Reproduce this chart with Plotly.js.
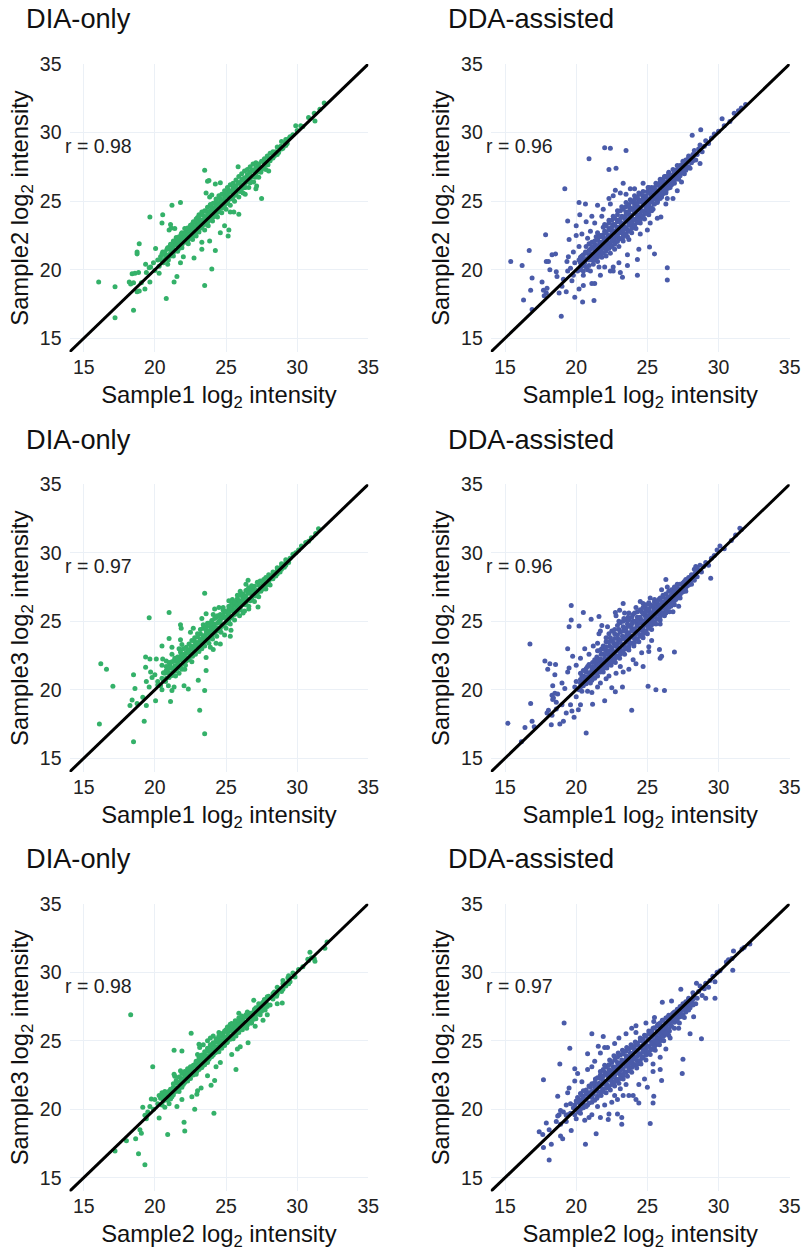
<!DOCTYPE html>
<html><head><meta charset="utf-8">
<script src="https://cdn.plot.ly/plotly-3.0.1.min.js"></script>
<style>html,body{margin:0;padding:0;background:#fff}</style></head>
<body><div id="chart" style="width:803px;height:1254px"></div>
<script>
const dia12 = [[16.05,19.1],[17.2,18.75],[17.2,16.5],[18.5,17.05],[20.8,17.9],[23.5,18.85],[24,20.05],[21.35,19.1],[21.55,19.5],[19.65,23.85],[20.55,24],[20.5,23.4],[21.2,24.7],[21.8,24.9],[23.5,27.25],[23.7,26.45],[23.8,26.5],[24.25,26.25],[24.6,26.35],[25.85,27.5],[27.5,25.2],[25.15,22.45],[25.2,22.9],[24.25,21.4],[23.85,22.1],[18.9,21.9],[18.75,21.3],[18.75,21.15],[20.05,21.55],[18.4,19.7],[18.6,19.75],[18.85,19.8],[18.2,19.1],[18.3,18.95],[18.5,19.05],[18.75,18.4],[18.9,18.45],[19.05,19.05],[19.3,18.6],[19.65,19.1],[20.3,19.75],[19.35,20.4],[19.6,20.15],[21,22.9],[21.1,23.3],[21.15,23.05],[21.4,23],[20.9,20.4],[21.8,20.5],[22,20.95],[22.75,20.85],[23.3,21.5],[23.3,22],[24.6,22.7],[24.9,23.2],[23.1,24],[23.6,25.6],[23.85,25.3],[24,25.45],[25.9,24.05],[25.3,24.2],[25.55,24.2],[26.35,25.5],[27.1,25.9],[27.15,26.1],[26.3,26],[29.9,30.5],[30.25,30.5],[31.2,31.4],[31.25,30.85],[30.8,31.1],[31.9,32.15],[31.6,31.7],
[19.4,19.8],[19.7,20.2],[19.9,20.5],[20,19.95],[20.2,20.7],[20.3,20.25],[20.4,20.95],[20.55,21.3],[20.6,20.5],[20.75,21],[20.85,21.5],[20.95,20.7],[21.05,21.7],[21.1,21.2],[21.25,21.5],[21.3,21],[21.4,21.95],[21.5,22.2],[21.6,21.35],[21.65,21.8],[21.8,22.25],[21.85,22.6],[21.9,21.6],[22,22.4],[22.1,22],[22.2,22.8],[22.25,22.45],[22.35,21.9],[22.45,23],[22.5,22.6],[22.6,23.3],[22.65,22.2],[22.75,22.85],[22.85,23.5],[22.9,22.45],[23,23.25],[23,23.8],[23.1,22.75],[23.2,23.6],[23.3,23.05],[23.35,24],[23.45,23.35],[23.5,22.9],[23.6,23.8],[23.65,24.25],[23.75,23.2],[23.8,23.6],[23.95,24.1],[24,24.55],[24.05,23.55],[24.15,23.9],[24.25,24.4],[24.3,24.95],[24.4,23.85],[24.45,24.2],[24.55,24.75],[24.6,25.2],[24.7,24.15],[24.8,24.55],[24.85,25.05],[24.95,25.55],[25,24.4],[25.1,24.85],[25.15,25.35],[25.2,25.8],[25.3,24.7],[25.4,25.2],[25.45,25.6],[25.5,26],[25.6,25],[25.7,25.45],[25.75,25.9],[25.85,26.35],[25.9,25.3],[26,25.7],[26.05,26.15],[26.15,26.6],[26.2,25.6],[26.35,26],[26.4,26.45],[26.5,26.95],[26.6,26],[26.7,26.35],[26.8,26.8],[26.85,27.25],[26.95,26.4],[27.05,26.75],[27.15,27.1],[27.25,27.55],[27.3,26.75],[27.45,27.1],[27.55,27.45],[27.65,27.85],[27.8,27.3],[27.95,27.65],[28.05,28.1],[28,27.2],[28.2,28.15],[28.4,28.3],[28.5,28.6],[28.7,28.55],[28.85,29],[29,28.85],[29.15,29.25],[29.3,29.2],[29.5,29.7],[29.7,29.85],[30,30.15],[30.4,30.45]];
const dia12Core = [[20.5,20.65,21.15],[20.7,20.75,21.3],[20.9,21.05,21.6],[21.1,21,21.5,21.85],[21.3,21.25,21.75,22.1],[21.5,21.4,21.8,22.35],[21.7,21.55,22.05,22.4],[21.9,21.8,22.15,22.7],[22.1,22.3,22.65,23],[22.3,22.1,22.6,23.05],[22.5,22.3,22.85,23.25],[22.7,22.5,23.05,23.5],[22.9,22.75,23.2,23.7],[23.1,23,23.4,23.85],[23.3,23.25,23.6,24.2],[23.5,23.3,23.8,24.3],[23.7,23.45,24,24.55],[23.9,23.7,24.3,24.75],[24.1,23.85,24.35,24.85],[24.3,24.1,24.65,25.15],[24.5,24.35,24.9,25.4],[24.7,24.5,25,25.5],[24.9,24.7,25.3,25.75],[25.1,24.95,25.55,26],[25.3,25.15,25.7,26.2],[25.5,25.3,25.8,26.3],[25.7,25.6,26.1,26.55],[25.9,25.75,26.35,26.8],[26.1,25.9,26.5,27],[26.3,26.25,26.7,27.2],[26.5,26.4,26.8,27.3],[26.7,26.55,27.1,27.5],[26.9,26.8,27.25,27.7],[27.1,27,27.45,27.8],[27.3,27.2,27.7],[27.5,27.3,27.9],[27.7,27.6,28.1],[27.9,27.85,28.3],[28.1,27.95,28.5],[28.3,28.6,28.15],[28.6,28.4,28.95],[28.9,28.8,29.35],[29.2,29.5,29.05],[29.4,29.55]];
const dda12 = [[15.4,20.6],[16.2,20.3],[16.7,21.4],[17.85,22.55],[16.9,19.4],[16.8,18.5],[16.3,17.8],[16.9,17.1],[18.95,16.6],[19.9,18],[20.45,17.65],[21.25,17.75],[20.5,18.85],[21.1,19],[21.3,19],[21.7,19.6],[23.25,19.45],[24.3,19.6],[26.4,19.25],[26.4,20.15],[25.5,21.15],[25.15,21.65],[24.4,21.5],[24.3,20.75],[23.6,21.1],[23.1,19.8],[22.6,20.2],[19.2,25.9],[19.4,23.55],[20.2,24.9],[20.65,24.8],[20.25,24],[20.9,28.1],[22,28.9],[22.4,28.85],[23.5,28.7],[22.3,27.3],[22.8,27.4],[23.3,26.3],[22.75,25.8],[23.8,25.9],[28.15,29.8],[28.75,30.2],[30.25,31],[28.7,27.75],[27.1,25.75],[26.4,25.2],[25.95,23.85],[25.3,24.3],[17.7,18.5],[17.9,18.3],[17.95,18.65],[18.15,20],[17.9,20.6],[18.3,21.1],[18.55,21.15],[18.05,20.6],[18.6,19.85],[19.35,20.6],[19.45,20.95],[19.5,22.2],[18.65,19.5],[17.6,19.1],[17.75,18.1],[18.8,18.3],[19,18.8],[19.3,18.4],[19.7,19.2],[20.2,18.6],[20.5,19.6],[21,19.9],[21.6,20.2],[22,20.2],[22.4,19.9],[22.6,19.9],[23,20.5],[23.6,20.3],[23.7,22.2],[24.5,22.6],[25,22.9],[25.2,23.4],[25.7,23.75],[26.3,24.8],[26.8,25.2],[27.4,26.4],[20,23.2],[20.4,22.6],[20.7,23.5],[21.1,23.9],[21.5,24.7],[21.9,24.4],[22.3,25.2],[22.4,24.8],[21,22.8],[20.8,22.3],[20.2,21.7],[19.8,21.3],[20,22.5],[21.3,23.4],[21.8,23.9],[22.6,25.4],[23.1,25.6],[23.5,25.5],[24.1,25.9],[24.7,26.3],
[19.1,19.3],[19.4,19.9],[19.6,20.1],[19.8,19.6],[19.9,20.5],[20.1,19.9],[20.2,20.7],[20.3,20.2],[20.4,21],[20.5,19.9],[20.6,20.5],[20.65,21.3],[20.7,21.7],[20.8,20],[20.9,20.7],[20.95,21.1],[21,21.5],[21.1,22],[21.2,20.4],[21.2,20.9],[21.3,21.3],[21.35,21.8],[21.4,22.4],[21.5,20.6],[21.5,21],[21.6,21.5],[21.65,22],[21.7,22.5],[21.8,20.9],[21.8,21.3],[21.9,21.8],[21.95,22.3],[22,22.8],[22,23.3],[22.1,21],[22.1,21.5],[22.2,22],[22.25,22.5],[22.3,23],[22.3,23.6],[22.4,21.2],[22.4,21.8],[22.5,22.3],[22.55,22.8],[22.6,23.3],[22.6,23.9],[22.7,21.5],[22.7,22],[22.8,22.6],[22.85,23.1],[22.9,23.6],[22.9,24.3],[23,21.7],[23,22.3],[23.1,22.8],[23.15,23.4],[23.2,23.9],[23.2,24.6],[23.3,22.1],[23.3,22.6],[23.4,23.1],[23.45,23.7],[23.5,24.2],[23.5,24.9],[23.6,22.4],[23.6,22.9],[23.7,23.4],[23.75,24],[23.8,24.5],[23.8,25.1],[23.9,22.7],[23.95,23.2],[24,23.7],[24.05,24.3],[24.1,24.8],[24.1,25.4],[24.2,23],[24.25,23.5],[24.3,24],[24.35,24.6],[24.4,25.1],[24.4,25.6],[24.5,23.4],[24.55,23.8],[24.6,24.3],[24.65,24.9],[24.7,25.4],[24.8,23.7],[24.85,24.2],[24.9,24.7],[24.95,25.2],[25,25.7],[25.05,26],[25.1,24],[25.15,24.5],[25.2,25],[25.25,25.5],[25.3,26],[25.4,24.4],[25.45,24.8],[25.5,25.3],[25.55,25.8],[25.6,26.3],[25.7,24.9],[25.75,25.2],[25.8,25.6],[25.85,26.1],[25.9,26.6],[26,25.3],[26.05,25.5],[26.1,25.9],[26.15,26.4],[26.2,26.8],[26.3,25.6],[26.35,25.9],[26.4,26.2],[26.45,26.7],[26.5,27.1],[26.6,26],[26.7,26.4],[26.75,26.9],[26.8,27.3],[26.9,26.3],[27,26.7],[27.05,27.2],[27.1,27.6],[27.2,26.6],[27.3,27],[27.4,27.5],[27.5,27.9],[27.6,27],[27.7,27.4],[27.8,27.85],[27.9,28.3],[28,27.4],[28.1,27.8],[28.2,28.2],[28.3,28.7],[28.4,28],[28.5,28.4],[28.6,28.8],[28.7,29.1],[28.85,28.6],[29,29],[29.1,29.4],[29.3,29.2],[29.5,29.6],[29.7,29.9],[30,30.1],[30.4,30.5],[30.8,30.8],[31.4,31.6],[31.6,31.8],[31.9,32.05],[31.1,31.4]];
const dda12Core = [[20.3,20,20.5,20.9],[20.5,20.3,20.7,21.1],[20.7,20.2,20.8,21.2],[20.9,20.3,20.9,21.4,21.9],[21.1,20.7,21.15,21.7],[21.3,20.7,21.1,21.5,22.1],[21.5,20.9,21.3,21.75,22.2,22.7],[21.7,21.1,21.55,21.95,22.4],[21.9,21.2,21.6,22.05,22.55,23.1],[22.1,21.35,21.75,22.25,22.7,23.2],[22.3,21.55,21.95,22.4,22.9,23.4],[22.5,21.7,22.1,22.6,23.1,23.6],[22.7,21.85,22.3,22.8,23.3,23.75],[22.9,22.05,22.5,22.95,23.5,24],[23.1,22.25,22.7,23.15,23.7,24.3],[23.3,22.4,22.9,23.35,23.85,24.4],[23.5,22.6,23.05,23.55,24,24.6],[23.7,22.8,23.25,23.7,24.25,24.75],[23.9,23,23.45,23.95,24.4,24.95],[24.1,23.25,23.65,24.1,24.6,25.1],[24.3,23.45,23.8,24.35,24.85,25.3],[24.5,23.65,24.05,24.5,25,25.5],[24.7,23.9,24.25,24.7,25.2,25.7],[24.9,24.1,24.45,24.95,25.4],[25.1,24.3,24.7,25.15,25.6,26],[25.3,24.5,24.95,25.35,25.8],[25.5,24.8,25.15,25.55,26],[25.7,25,25.4,25.75,26.2],[25.9,25.2,25.55,25.95,26.4],[26.1,25.55,25.75,26.2,26.6],[26.3,25.7,26,26.4,26.8],[26.5,25.95,26.25,26.6,27],[26.7,26.2,26.5,26.8],[26.9,26.5,26.7,27.1],[27.1,26.7,26.95,27.3],[27.3,26.85,27.25,27.6],[27.5,27.1,27.4,27.75],[27.7,27.25,27.6,28],[27.9,27.5,27.9,28.15],[28.2,27.95,28.4]];
const dia13 = [[16.2,21.9],[16.6,21.5],[17.05,20.25],[16.1,17.5],[18.5,16.2],[19.25,17.7],[18.5,21.1],[18.6,20.1],[18.4,19.25],[18.25,18.85],[18.75,19],[19.15,19.45],[19.4,18.85],[20.05,19.2],[21.1,19.15],[19.6,25.25],[21,25.65],[21.8,24.75],[21.85,24.5],[21,23.75],[21.8,23.65],[20.5,23.2],[21.2,23.1],[19.35,22.4],[19.35,21.65],[19.65,22.25],[20.1,22.25],[20.55,22.25],[23.5,27.05],[26.55,28],[27.25,26.05],[25.35,24.35],[24.6,23.35],[24.1,22.95],[23.6,22.35],[23.6,21.4],[23.05,20.7],[23.5,19.95],[23.15,18.5],[23.5,16.8],[22.05,20.3],[22.35,20.05],[21.35,20.2],[21.2,19.95],[20.95,20.3],[20.5,20],[19.4,20.6],[19.6,20.2],[19.8,20.9],[19.7,21.3],[20,21.1],[20.2,20.6],[20.5,21.8],[20.8,22.1],[21.2,22.6],[21.7,23],[21.9,23.3],[22.5,24.2],[22.7,24.5],[23.3,25.2],[23.6,25.55],[24.1,25.5],[24.2,25.9],[24.5,26],[24.8,26],[25.2,26.5],[25.45,26.6],[25.8,26.9],[26,27.2],[26.4,27.7],[26.5,27.3],[25.3,23.9],[24.9,24],[24.3,23.4],[23.9,23.1],[26.6,25.9],[26.2,25.6],[21.7,21.2],[22.1,21.5],[22.6,22.05],
[20.2,20.35],[20.4,20.3],[20.5,20.85],[20.7,21.2],[20.75,20.6],[20.9,21.5],[21,20.9],[21.05,21.85],[21.2,21.2],[21.3,21.6],[21.35,22.1],[21.45,21],[21.5,21.5],[21.6,22.4],[21.7,21.85],[21.8,22.2],[21.9,21.5],[22,22],[22.05,22.6],[22.15,21.8],[22.2,22.35],[22.3,22.9],[22.4,22.2],[22.45,22.6],[22.55,23.2],[22.65,22.45],[22.7,22.9],[22.8,23.5],[22.85,22.6],[22.95,23.2],[23,23.85],[23.1,22.8],[23.15,23.45],[23.2,24.1],[23.3,23],[23.35,23.65],[23.4,24.5],[23.5,23.2],[23.55,23.85],[23.6,24.35],[23.7,24.85],[23.8,23.4],[23.85,24.1],[23.9,24.6],[24,25.05],[24.05,23.7],[24.1,24.3],[24.2,24.8],[24.3,25.3],[24.35,23.9],[24.4,24.5],[24.5,25],[24.6,25.5],[24.65,24.2],[24.7,24.75],[24.8,25.25],[24.9,25.75],[25,24.5],[25.05,25],[25.15,25.5],[25.2,25.9],[25.3,24.8],[25.35,25.25],[25.45,25.75],[25.55,26.2],[25.6,25.1],[25.7,25.55],[25.75,26],[25.85,26.45],[25.95,25.4],[26,25.85],[26.1,26.3],[26.2,26.75],[26.3,25.75],[26.35,26.2],[26.45,26.6],[26.55,27.05],[26.6,26.1],[26.7,26.5],[26.8,26.95],[26.9,27.35],[27,26.45],[27.05,26.85],[27.15,27.25],[27.3,27.65],[27.3,26.8],[27.45,27.2],[27.55,27.6],[27.65,28.05],[27.8,27.35],[27.9,27.75],[28,28.15],[28.1,27.65],[28.2,28.1],[28.3,28.45],[28.5,28.3],[28.6,28.7],[28.8,28.6],[28.9,29],[29.1,28.95],[29.2,29.3],[29.4,29.3],[29.5,29.6],[29.7,29.9],[29.9,30],[30.1,30.2],[30.3,30.5],[30.6,30.75],[30.8,30.85],[31,31.1],[31.3,31.4],[31.5,31.75]];
const dia13Core = [[20.6,20.7,21.25],[20.8,20.85,21.4,21.7],[21,21.2,21.6,22],[21.2,21.05,21.55,22.05],[21.4,21.35,21.75,22.3],[21.6,21.55,21.95,22.2],[21.8,21.7,22.45,22.75],[22,22.25,22.55,23],[22.2,22.1,22.7,23.1],[22.4,22.3,22.9,23.35],[22.6,22.6,23,23.6],[22.8,22.7,23.2,23.8],[23,22.9,23.45,24.1],[23.2,23.15,23.7,24.4],[23.4,23.3,23.95,24.75],[23.6,23.55,24.1,24.6],[23.8,23.75,24.3,24.85],[24,23.9,24.5,24.8],[24.2,24.15,24.55,25.2],[24.4,24.3,24.85,25.4],[24.6,24.5,25.05,25.3],[24.8,24.7,25.5,25.8],[25,24.85,25.3,25.7],[25.2,25.1,25.65,26.1],[25.4,25.35,25.95,26.3],[25.6,25.5,25.85,26.4],[25.8,25.7,26.2,26.65],[26,26.05,26.5,26.9],[26.2,26.25,26.55,27],[26.4,26.35,26.85,27.25],[26.6,26.6,27.15,27.45],[26.8,26.65,27.3,27.6],[27,27.05,27.55],[27.2,27.05,27.85],[27.4,27.45,27.95],[27.6,27.35,27.85],[27.8,27.65,28.2],[28,27.9,28.4],[28.3,28.1,28.6],[28.6,28.45,28.9],[28.9,28.8,29.2],[29.2,29.1,29.5]];
const dda13 = [[15.2,17.55],[16.4,17.25],[16.75,23.35],[16.8,19],[16.9,17.7],[17.05,17.3],[16.15,16.2],[17.8,22.1],[18.15,21.9],[18.55,21.85],[18,21.5],[18.5,21.1],[18.35,20.3],[18.25,17.45],[18.85,17.5],[19.1,17.7],[19.85,18],[20.7,16.85],[23.9,18.5],[22,19.2],[21.15,18.95],[20.3,18.9],[20.15,18.55],[19.7,18.45],[22.5,20.15],[23.25,20.2],[22.75,19.85],[25.05,20.25],[25.6,20],[26.2,19.95],[26.9,22.75],[26,22.45],[25.9,22.3],[25.85,22.95],[25.1,23.15],[25.1,22.8],[24.7,21.7],[24,22.2],[19.65,26.15],[20.5,25.65],[19.65,25.1],[20.2,24.65],[19.5,24.6],[21.05,25.15],[21.6,25.35],[19.4,23],[20.6,23],[19.75,22.45],[23.3,26.3],[22.75,25.65],[23.05,25.8],[24.5,26.45],[26.3,28.05],[29.45,28.15],[18.3,19.6],[18.4,19.4],[18.5,19.75],[18.7,19.7],[18.6,19.1],[18.35,19.3],[17.95,18.3],[18.05,18.5],[18.3,18.15],[18.6,18.6],[19,18.9],[19.3,18.3],[19.6,18.9],[20,19.5],[20.4,19.9],[20.8,19.9],[21.1,19.8],[21.7,20.5],[19.2,20.1],[19,20.5],[19.4,21.3],[19.5,21.6],[20,21.8],[20.3,22.3],[20.9,22.6],[21.2,23.2],[21.5,23.4],[21.6,24.1],[21.7,24.3],[21.8,24.7],[22.2,24.6],[22.8,25.4],[23.4,25.6],[23.7,25.6],[24.2,26],[24.7,26.3],[25.2,26.7],[26,27.3],[26.4,27.5],[22.3,21],[22.8,21.2],[23.3,21.3],[23.7,21.5],[24.2,21.9],[24.6,22.7],[25.3,23.6],[25.9,24.8],[26.8,25.7],[27.2,26.1],[22.1,20.8],[21.5,20.2],[23.1,21.7],
[19.9,20.2],[20,20.6],[20.2,20],[20.3,20.5],[20.4,21],[20.5,20.3],[20.6,20.8],[20.7,21.3],[20.75,20.6],[20.8,21.7],[20.95,21],[21,20.5],[21.1,21.4],[21.15,22],[21.2,20.9],[21.3,21.4],[21.4,21.9],[21.45,22.4],[21.5,21],[21.6,21.5],[21.7,22],[21.75,22.6],[21.8,23],[21.9,21.3],[21.95,21.8],[22,22.3],[22.05,22.9],[22.1,23.5],[22.15,21.6],[22.25,22.1],[22.3,22.6],[22.35,23.2],[22.4,23.8],[22.45,21.8],[22.5,22.3],[22.6,22.8],[22.65,23.4],[22.7,24.1],[22.75,22],[22.8,22.5],[22.9,23.1],[22.95,23.7],[23,24.4],[23,25],[23.05,22.3],[23.15,22.8],[23.2,23.3],[23.25,23.9],[23.3,24.6],[23.35,25.2],[23.4,22.6],[23.45,23.1],[23.5,23.6],[23.55,24.2],[23.6,24.8],[23.65,25.3],[23.7,22.9],[23.75,23.4],[23.8,23.9],[23.9,24.5],[24,25],[24,25.5],[24.05,23.2],[24.1,23.7],[24.2,24.2],[24.25,24.8],[24.3,25.3],[24.4,23.5],[24.45,24],[24.5,24.5],[24.55,25.1],[24.6,25.7],[24.7,23.8],[24.75,24.3],[24.8,24.8],[24.85,25.4],[24.9,25.9],[25,24.1],[25.05,24.6],[25.1,25.1],[25.15,25.7],[25.2,26.2],[25.3,24.4],[25.35,24.9],[25.4,25.4],[25.45,25.9],[25.5,26.4],[25.6,24.8],[25.65,25.2],[25.7,25.7],[25.75,26.2],[25.8,26.6],[25.9,25.1],[25.95,25.5],[26,26],[26.05,26.4],[26.1,26.9],[26.2,25.4],[26.3,25.8],[26.35,26.3],[26.4,26.7],[26.5,27.2],[26.55,25.7],[26.65,26.1],[26.7,26.6],[26.8,27],[26.9,26.2],[27,26.6],[27.1,27.1],[27.15,27.4],[27.3,26.7],[27.4,27.1],[27.5,27.5],[27.6,27.9],[27.7,27.2],[27.8,27.6],[27.95,28.05],[28.1,27.7],[28.2,28.1],[28.35,28.5],[28.5,28.25],[28.6,28.7],[28.7,29.1],[28.4,29],[28.8,28.6],[28.95,29],[29.1,29.3],[29.3,29.1],[29.5,29.6],[29.7,29.8],[29.9,30.2],[30.1,30.5],[30.4,30.3],[30.9,30.9],[31.2,31.3],[31.5,31.8],[31.6,31.7]];
const dda13Core = [[20.3,20.2,20.75,21.2],[20.5,20.55,21,21.4],[20.7,20.45,20.95,21.55],[20.9,20.7,21.25,21.85],[21.1,20.7,21.15,21.65],[21.3,20.85,21.2,21.7,22.2],[21.5,21.3,21.75,22.2,22.85],[21.7,21.3,21.75,22.25,22.9],[21.9,21.55,22.05,22.6,23.2],[22.1,21.8,22.15,22.6,23.15,23.8],[22.3,21.85,22.35,22.85,23.5,24.1],[22.5,22.05,22.55,23.05,23.55,24.3],[22.7,22.25,22.75,23.2,23.75,24.4],[22.9,22.4,22.85,23.4,24,24.7],[23.1,22.6,23.05,23.6,24.2,24.9],[23.3,22.85,23.25,23.75,24.3,25],[23.5,23,23.45,23.9,24.5,25.1],[23.7,23.15,23.65,24.15,24.65,25.1],[23.9,23.4,23.85,24.3,24.8,25.3],[24.1,23.45,23.95,24.45,25,25.6],[24.3,23.7,24.2,24.65,25.1,25.7],[24.5,23.9,24.35,24.85,25.3,25.85],[24.7,24.1,24.55,25,25.55,26],[24.9,24.3,24.75,25.2,25.7,26.2],[25.1,24.5,24.9,25.4,25.9,26.35],[25.3,24.75,25.15,25.6,26.1],[25.5,24.95,25.35,25.75,26.2,26.6],[25.7,25.15,25.55,25.95,26.45],[25.9,25.35,25.75,26.2,26.7],[26.1,25.6,25.95,26.35,26.75],[26.3,25.6,26.1,26.55,27],[26.5,26,26.35,26.8],[26.7,26.25,26.55,26.95,27.3],[26.9,26.5,26.8,27.2,27.5],[27.1,26.7,26.9,27.4,27.7],[27.3,26.95,27.25,27.7],[27.5,27.15,27.4,27.8],[27.7,27.45,27.65,28.05],[27.9,27.65,27.85,28.2],[28.1,28.05,28.4],[28.3,28,28.3,28.8],[28.5,28.6,28.9]];
const dia23 = [[18.3,26.9],[22.55,25.55],[19.85,23.1],[21.35,24.3],[21.9,24.25],[23.1,24.75],[23.15,24.5],[19.15,20.15],[19.65,20.2],[19.75,20.75],[20.3,19.35],[19.3,19.55],[18.95,18.5],[19.05,18.25],[18.65,17.85],[18.85,16.75],[19.3,15.95],[20.9,18.15],[22.05,19.05],[22.1,18.4],[22.8,20],[24.15,19.7],[21.55,20.2],[21.9,20.7],[23.25,21.55],[22.95,21.1],[24.2,22.1],[23.95,21.75],[25.7,22.9],[26.55,24.85],[26,24.55],[27.05,26.05],[28.95,27.75],[30.9,31.45],[31.25,30.8],[31.95,31.75],[32.1,32.2],[26.95,27.95],[25.9,27],[17.2,16.95],[18,17.7],[19.4,19.3],[19.5,19.8],[20,20.7],[20.3,21],[20.5,21.2],[20.7,20.15],[21,20.4],[21.4,22.4],[21.35,22.55],[21.5,21.9],[21.8,22.8],[21.2,20.9],[22.6,20.9],[23,21.35],[23.7,22.45],[24.3,23.1],[24.6,23.4],[25.4,24],[25.8,24.4],[27.6,26.5],[27.9,26.9],[28.6,27.7],[23,24],[23.4,24.7],[23.7,25],[23.9,25.2],[24.1,25.35],[24.5,25.6],
[19.9,20],[20.2,20.4],[20.4,20.8],[20.6,20.6],[20.75,21.1],[20.85,20.8],[21,21.3],[21.15,21],[21.3,21.6],[21.45,21.3],[21.6,21.95],[21.7,21.5],[21.85,22.25],[22,21.8],[22.1,22.5],[22.2,22.1],[22.35,22.8],[22.45,22.3],[22.6,23.05],[22.7,22.5],[22.85,23.3],[22.95,22.75],[23.1,23.5],[23.2,23],[23.3,23.8],[23.4,23.2],[23.5,23.95],[23.6,23.45],[23.7,24.25],[23.8,23.65],[23.9,24.5],[24,23.85],[24.1,24.7],[24.2,24.1],[24.3,24.9],[24.4,24.4],[24.45,25.1],[24.55,24.55],[24.65,25.3],[24.75,24.75],[24.8,25.55],[24.9,25.05],[25,25.8],[25.05,24.85],[25.15,25.4],[25.2,26],[25.3,25.1],[25.35,25.7],[25.4,26.25],[25.5,25.4],[25.55,25.95],[25.65,26.45],[25.7,25.6],[25.8,26.15],[25.9,26.65],[25.95,25.85],[26.05,26.35],[26.15,25.8],[26.2,26.65],[26.3,26.1],[26.4,26.9],[26.45,25.9],[26.6,26.45],[26.7,27],[26.8,26.3],[26.9,26.75],[27,27.3],[27.1,26.6],[27.2,27.1],[27.3,27.5],[27.4,26.9],[27.5,27.35],[27.6,27.8],[27.75,27.25],[27.85,27.7],[28,28.25],[28.1,27.6],[28.2,28.15],[28.4,28.55],[28.55,28.25],[28.7,28.8],[28.9,28.6],[29,29.15],[29.2,29],[29.35,29.6],[29.5,29.3],[29.7,29.95],[29.85,29.65],[30.1,30.2],[30.4,30.4],[30.8,30.85],[31,31.05],[31.2,31],[30.75,30.95]];
const dia23Core = [[20.5,20.3,20.9],[20.7,20.85,21.3],[20.9,20.65,21.25],[21.1,20.75,21.45],[21.3,21.05,21.85],[21.5,21.55,22.1],[21.7,21.3,21.95,22.35],[21.9,21.6,22.1,22.6],[22.1,21.95,22.3,22.75],[22.3,22.05,22.55,22.95],[22.5,22.25,22.75,23.1],[22.7,22.8,23.2],[22.9,22.55,23.1,23.5],[23.1,22.9,23.25,23.75],[23.3,23.05,23.55,23.95],[23.5,23.25,23.7,24.2],[23.7,23.4,23.9,24.45],[23.9,23.8,24.15,24.7],[24.1,23.95,24.35,24.85],[24.3,24.15,24.55,25.15],[24.5,24.2,24.85,25.35],[24.7,24.45,25,25.5],[24.9,24.65,25.25,25.7],[25.1,24.9,25.6,26],[25.3,25.35,25.85,26.2],[25.5,25.15,25.75,26.15],[25.7,25.35,25.95,26.35],[25.9,25.6,26.2,26.5],[26.1,25.95,26.5,26.8],[26.3,26.35,26.75],[26.5,26.15,26.7,27.1],[26.7,26.3,26.8],[26.9,26.55,27.05],[27.1,26.9,27.4],[27.3,27.05,27.7],[27.5,27.15,27.7],[27.7,27.55,28],[27.9,27.5,28.2],[28.3,28.05,28.45],[28.6,28.4,28.9],[29,28.75,29.4],[29.4,29.15,29.75]];
const dda23 = [[19.15,26.3],[17.7,22.15],[18.85,23.3],[19.55,24.45],[19.9,22.95],[21.1,25.5],[21.9,25.3],[20.8,24.05],[21.55,24.6],[18.7,20.95],[19.9,22.05],[19.5,21.55],[17.9,19],[17.4,18.35],[17.65,18.15],[18.1,18.5],[17.7,17.2],[18.25,17.45],[18.1,16.3],[18.9,18.05],[19.05,17.85],[19.65,18.45],[20.65,17.45],[21.4,18.2],[22.25,19.25],[22.3,19.65],[22.9,19.65],[23.2,19.4],[23.2,18.9],[25.2,18.95],[24.4,20.45],[25.4,20.45],[25.45,20.95],[25.9,22.9],[26,22.1],[25.4,22.75],[27.45,22.6],[27.5,23.65],[28.8,25.15],[28,25.5],[28.25,26.75],[29.75,28.1],[29.1,28.1],[31,30.15],[31.05,31.55],[27.35,28.75],[26.05,27.8],[28.45,29.2],[30.55,30.75],[31.65,31.7],[32.2,32.05],[18.6,19.1],[18.8,19.6],[18.9,19.9],[18.7,19.5],[19.1,19.8],[19.3,19.1],[19.4,19.6],[19.6,20.4],[19.3,20.3],[19.4,21.2],[20,19.3],[20.3,19.7],[20.6,19.2],[20.9,19.4],[21.1,19.6],[21.7,19.4],[21.5,20.2],[22,20.3],[22.5,20.5],[22.9,20.7],[23.3,21],[23.7,21],[24,21],[24.2,20.7],[24.4,21.8],[24.8,22.2],[25,21.6],[25.4,23.3],[25.9,23.8],[26.3,24.4],[26.6,25.2],[27.2,25.9],[20.1,22.6],[20.4,22],[20.8,22.9],[21.1,23.1],[21.3,23.5],[21.7,24.1],[22,24.5],[22.2,24.5],[22.7,24.8],[23,25.2],[23.5,25.5],[23.9,25.9],[24.2,26.1],[24.9,26.3],[25.5,26.7],[26.7,27.9],[22.7,21],[23.1,21.5],[23.5,21.8],
[18.9,18.9],[19.3,19.55],[19.6,19.7],[19.8,20.1],[20,20.6],[20.15,19.8],[20.3,20.4],[20.4,21],[20.5,20.1],[20.6,20.7],[20.7,21.4],[20.8,20.3],[20.9,20.9],[21,21.6],[21.1,20.5],[21.2,21.1],[21.3,21.7],[21.35,22.2],[21.45,20.8],[21.5,21.3],[21.6,21.9],[21.7,22.5],[21.75,21],[21.85,21.5],[21.9,22.1],[22,22.7],[22,23.2],[22.1,21.2],[22.15,21.8],[22.25,22.4],[22.3,22.9],[22.35,23.6],[22.4,21.4],[22.5,22],[22.55,22.5],[22.6,23.1],[22.65,23.9],[22.7,21.7],[22.8,22.2],[22.85,22.8],[22.9,23.4],[22.95,24.1],[23,21.9],[23.1,22.5],[23.15,23],[23.2,23.6],[23.25,24.3],[23.3,22.2],[23.4,22.7],[23.45,23.3],[23.5,23.9],[23.55,24.5],[23.6,22.4],[23.7,23],[23.75,23.5],[23.8,24.1],[23.85,24.7],[23.9,22.7],[24,23.3],[24.05,23.8],[24.1,24.3],[24.15,24.9],[24.2,25.6],[24.25,23],[24.3,23.5],[24.4,24],[24.45,24.6],[24.5,25.2],[24.55,23.3],[24.65,23.8],[24.7,24.3],[24.75,24.8],[24.8,25.4],[24.9,23.6],[24.95,24.1],[25,24.6],[25.05,25.1],[25.1,25.7],[25.2,24],[25.25,24.4],[25.3,24.9],[25.35,25.4],[25.4,25.9],[25.45,26.4],[25.55,24.3],[25.6,24.7],[25.65,25.2],[25.7,25.7],[25.75,26.2],[25.85,24.7],[25.9,25],[25.95,25.5],[26,26],[26.05,26.5],[26.15,25],[26.2,25.4],[26.3,25.8],[26.35,26.3],[26.4,26.7],[26.5,25.4],[26.55,25.7],[26.65,26.1],[26.7,26.6],[26.8,27],[26.9,25.9],[26.95,26.4],[27.05,26.9],[27.1,27.3],[27.25,26.3],[27.3,26.8],[27.4,27.2],[27.5,27.6],[27.6,26.7],[27.7,27.1],[27.8,27.5],[27.9,28],[28,27.4],[28.1,27.8],[28.25,28.3],[28.4,27.7],[28.5,28.1],[28.6,28.6],[28.7,29],[28.85,28.3],[29,28.8],[29.1,29.2],[29.3,28.9],[29.4,29.4],[29.6,29.7],[29.75,29.3],[29.9,30],[30.1,30.1],[30.7,30.9],[30.95,31],[31.8,31.8]];
const dda23Core = [[19.9,19.6,20.3],[20.1,19.9,20.5,20.85],[20.3,20,20.65,21.15],[20.5,20.4,20.85,21.35],[20.7,20.2,20.75,21.1],[20.9,20.45,21.2,21.7],[21.1,20.85,21.3,21.85],[21.3,20.65,21.4,21.95],[21.5,20.95,21.65,22.3],[21.7,21.25,21.75,22.25,22.75],[21.9,21.3,21.85,22.4,22.9],[22.1,21.55,22,22.55,23.1],[22.3,21.65,22.15,22.65,23.25],[22.5,21.8,22.3,22.8,23.4],[22.7,22,22.5,23,23.6],[22.9,22.15,22.65,23.15,23.8],[23.1,22.25,22.8,23.35,23.95],[23.3,22.5,22.95,23.5,24.05],[23.5,22.7,23.15,23.65,24.25],[23.7,22.8,23.3,23.8,24.4],[23.9,23.05,23.55,24,24.5],[24.1,23.2,23.65,24.15,24.6],[24.3,23.3,23.85,24.3,24.8],[24.5,23.55,24.05,24.5,25],[24.7,23.75,24.15,24.65,25.1],[24.9,23.95,24.4,24.85,25.35],[25.1,24.2,24.6,25.05,25.5],[25.3,24.35,24.75,25.25,25.7],[25.5,24.55,25,25.45,25.95],[25.7,24.9,25.25,25.6,26.1],[25.9,25.2,25.55,25.8,26.3],[26.1,25.3,25.7,26.05,26.5],[26.3,25.55,26,26.25,26.65],[26.5,25.85,26.2,26.5,26.85],[26.7,26.05,26.4,26.9],[26.9,26.35,26.7,27.1],[27.1,26.55,26.85,27.2],[27.3,26.75,27.05,27.5],[27.5,26.9,27.3,27.7],[27.7,27.35,27.85],[27.9,27.25,27.65,28.1],[28.2,27.6,28,28.5]];

const xLabels = ['Sample1','Sample1','Sample1','Sample1','Sample2','Sample2'];
const yLabels = ['Sample2','Sample2','Sample3','Sample3','Sample3','Sample3'];
const methods = ['DIA-only','DDA-assisted','DIA-only','DDA-assisted','DIA-only','DDA-assisted'];
const rValues = ['0.98','0.96','0.97','0.96','0.98','0.97'];
const panelPoints = [dia12,dda12,dia13,dda13,dia23,dda23];
const panelCores = [dia12Core,dda12Core,dia13Core,dda13Core,dia23Core,dda23Core];
const tickValues = [15,20,25,30,35];
const identity = [14,35];
const GREEN='#34b169', BLUE='#4a5ba9', FONT='"Liberation Sans", Arial, sans-serif';
const W=803,H=1254;
const cols=[[69.5,368.3],[490.8,789.7]];
const rows=[[64,352],[484.3,772],[903.7,1191.4]];
const data=[],layout={width:W,height:H,margin:{l:0,r:0,t:0,b:0},paper_bgcolor:'#fff',plot_bgcolor:'#fff',showlegend:false,font:{family:FONT,color:'#222'},annotations:[]};
panelPoints.forEach((list,i)=>{
  const c=cols[i%2],r=rows[Math.floor(i/2)],n=i===0?'':String(i+1);
  const xa='x'+n,ya='y'+n;
  const pts=list.concat(panelCores[i].flatMap(([x,...ys])=>ys.map(y=>[x,y])));
  data.push({type:'scatter',mode:'markers',x:pts.map(p=>p[0]),y:pts.map(p=>p[1]),xaxis:xa,yaxis:ya,cliponaxis:false,hoverinfo:'x+y',
    marker:{size:5,color:i%2?BLUE:GREEN,line:{width:0}}});
  data.push({type:'scatter',mode:'lines',x:identity,y:identity,xaxis:xa,yaxis:ya,cliponaxis:false,hoverinfo:'skip',line:{color:'#000',width:3}});
  const axBase={range:[14,35],tickmode:'array',tickvals:tickValues,ticktext:tickValues.map(String),showgrid:true,gridcolor:'#ebf0f6',gridwidth:1,zeroline:false,showline:false,ticks:'',tickfont:{size:19.5,color:'#222',family:FONT}};
  layout['xaxis'+n]=Object.assign({},axBase,{domain:[c[0]/W,c[1]/W],anchor:ya,ticklabelstandoff:1,title:{text:xLabels[i]+' log<sub>2</sub> intensity',font:{size:23.8,color:'#111',family:FONT},standoff:9}});
  layout['yaxis'+n]=Object.assign({},axBase,{domain:[1-r[1]/H,1-r[0]/H],anchor:xa,ticklabelstandoff:7,title:{text:yLabels[i]+' log<sub>2</sub> intensity',font:{size:23.8,color:'#111',family:FONT},standoff:4}});
  layout.annotations.push({xref:'paper',yref:'paper',x:(i%2?446:24)/W,y:1-(r[0]-45)/H,xanchor:'left',yanchor:'middle',showarrow:false,text:methods[i],font:{size:27.2,color:'#111',family:FONT}});
  layout.annotations.push({xref:'paper',yref:'paper',x:(c[0]-6.5)/W,y:1-(r[0]+82)/H,xanchor:'left',yanchor:'middle',showarrow:false,text:'r = '+rValues[i],font:{size:19.5,color:'#222',family:FONT}});
});
Plotly.newPlot('chart',data,layout,{displayModeBar:false,responsive:false});
</script></body></html>
